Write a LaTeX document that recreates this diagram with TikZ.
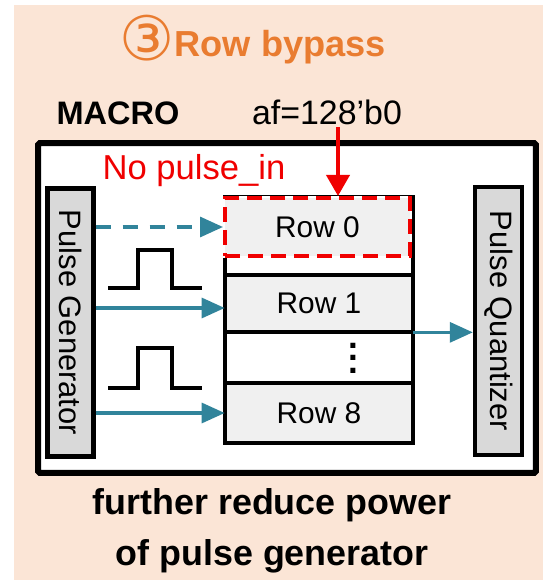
\documentclass[tikz,border=0pt]{standalone}
\usepackage{fontspec}
\usepackage{graphicx}
\setmainfont{Liberation Sans}
\newfontfamily\circfont{DejaVu Sans}
\usetikzlibrary{arrows.meta}
\definecolor{peach}{HTML}{FBE5D6}
\definecolor{ttl}{HTML}{E97C30}
\definecolor{sig}{HTML}{31849B}
\definecolor{rowbg}{HTML}{F0F0F0}
\definecolor{blkbg}{HTML}{D9D9D9}
\definecolor{alert}{HTML}{F00000}
\newcommand{\fsz}[1]{\fontsize{#1}{#1}\selectfont}
\newcommand{\rowdots}{\vbox{\baselineskip=7.1pt\lineskiplimit=0pt\hbox{.}\hbox{.}\hbox{.}}}
\tikzset{
  blk/.style={draw=black, fill=blkbg, line width=2.5pt, minimum width=0.92cm, minimum height=5.36cm,
              inner sep=0pt, font=\fsz{17.6}},
  rowcell/.style={fill=rowbg, minimum width=3.76cm, inner sep=0pt, font=\fsz{17}},
  sep/.style={line width=2.4pt},
  pin/.style={draw=sig, line width=1.8pt, -{Triangle[length=0.46cm, width=0.4cm]}},
  pulse/.style={line width=2.6pt, line join=miter},
  txt/.style={anchor=base, inner sep=1pt},
}

\begin{document}
\begin{tikzpicture}[x=0.02cm, y=-0.02cm]
  \useasboundingbox (0,0) rectangle (543,580);
  \fill[peach] (14,5) rectangle (543,580);
  \node[txt, text=ttl, font=\bfseries\fsz{20.6}] (title) at (252.7,57) {{\circfont\mdseries\fsz{35}\raisebox{-0.06em}{③}}Row bypass};
  \node[txt, font=\bfseries\fsz{18.5}] (macrolbl) at (118,125) {MACRO};
  \node[txt, font=\fsz{19.3}] (af) at (327,125) {af=128'b0};
  \node[draw, fill=white, line width=3.4pt, rounded corners=1pt, minimum width=9.96cm, minimum height=6.6cm] (macro) at (287,308) {};
  \node[txt, text=alert, font=\fsz{19.7}] (nopulse) at (194,180) {No pulse\_in};
  \node[blk] (pg) at (70.5,322.5) {\rotatebox{-90}{Pulse Generator}};
  \node[blk, minimum width=0.94cm] (pq) at (498.5,321) {\rotatebox{-90}{Pulse Quantizer}};
  \node[rowcell, minimum height=1.14cm] (row1) at (319,303.5) {Row 1};
  \node[rowcell, minimum height=1.2cm] (row8) at (319,413) {Row 8};
  \node[font=\bfseries\fsz{20}, inner sep=0pt] (dots) at (353,358) {\rowdots};
  \draw[sep] (row1.north west) -- (row1.north east);
  \draw[sep] (row1.south west) -- (row1.south east);
  \draw[sep] (row8.north west) -- (row8.north east);
  \node[draw, line width=2.8pt, minimum width=3.76cm, minimum height=4.92cm] (stack) at (319,320) {};
  \node[rowcell, minimum width=3.7cm, minimum height=1.16cm, draw=alert, line width=2.3pt,
        dash pattern=on 0.3cm off 0.16cm, preaction={draw=white, solid, line width=2.6pt}] (row0) at (317.5,227) {Row 0};
  \draw[draw=alert, line width=2.2pt, -{Triangle[length=0.42cm, width=0.46cm]}] ([xshift=0.22cm]af.south) -- ([xshift=0.22cm]af.south |- row0.north);
  \draw[pin, dash pattern=on 0.3cm off 0.24cm] (pg.east |- row0.west) -- (row0.west);
  \draw[pin] ([yshift=-0.09cm]pg.east |- row1.west) -- ([yshift=-0.09cm]row1.west);
  \draw[pin] (pg.east |- row8.west) -- (row8.west);
  \draw[pin] (row1.south east) -- (row1.south east -| pq.west);
  \draw[pulse] (108,288) -- (138,288) -- (138,250) -- (172,250) -- (172,288) -- (202,288);
  \draw[pulse] (108,388) -- (138,388) -- (138,348) -- (172,348) -- (172,388) -- (202,388);
  \node[txt, align=center, font=\bfseries\fontsize{20.4}{28.5}\selectfont] (note) at (272,565) {further reduce power\\of pulse generator};
\end{tikzpicture}
\end{document}
